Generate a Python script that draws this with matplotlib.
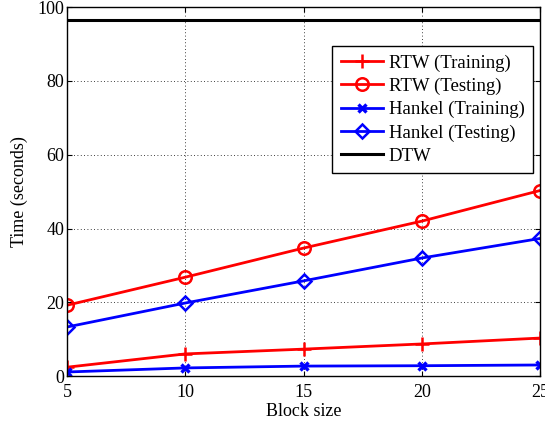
import matplotlib
matplotlib.use("Agg")
import matplotlib.pyplot as plt

block_size = [5, 10, 15, 20, 25]
rtw_train = [2.4, 6.0, 7.3, 8.7, 10.3]
rtw_test = [19.2, 26.8, 34.7, 42.0, 50.3]
hankel_train = [1.1, 2.2, 2.7, 2.8, 3.0]
hankel_test = [13.3, 19.8, 25.8, 32.0, 37.3]
dtw_time = 96.5

plt.rcParams["font.family"] = ["Liberation Serif", "DejaVu Serif"]
plt.rcParams["font.size"] = 13

fig = plt.figure(figsize=(5.45, 4.23), dpi=100)
ax = fig.add_axes([0.123, 0.111, 0.868, 0.872])

lw = 2.0
ax.plot(block_size, rtw_train, color="red", lw=lw, marker="+", ms=10, mew=1.8,
        label="RTW (Training)")
ax.plot(block_size, rtw_test, color="red", lw=lw, marker="o", ms=9, mew=1.8,
        mfc="none", label="RTW (Testing)")
ax.plot(block_size, hankel_train, color="blue", lw=lw, marker="x", ms=6, mew=2.4,
        label="Hankel (Training)")
ax.plot(block_size, hankel_test, color="blue", lw=lw, marker="D", ms=7.5, mew=1.8,
        mfc="none", label="Hankel (Testing)")
ax.plot([block_size[0], block_size[-1]], [dtw_time, dtw_time], color="black",
        lw=2.2, label="DTW")

ax.set_xlim(5, 25)
ax.set_ylim(0, 100)
ax.set_xticks(block_size)
ax.set_yticks([0, 20, 40, 60, 80, 100])
ax.tick_params(direction="in", top=True, right=True, labelsize=13)
ax.tick_params(axis="x", pad=6)
ax.tick_params(axis="y", pad=2)
ax.grid(True, linestyle=(0, (1, 3)), color="black", lw=0.6)
for s in ax.spines.values():
    s.set_linewidth(1.0)
ax.set_xlabel("Block size", fontsize=13, labelpad=1)
ax.set_ylabel("Time (seconds)", fontsize=13, labelpad=7)

leg = ax.legend(loc="upper right", bbox_to_anchor=(0.985, 0.895), fontsize=13.5,
                fancybox=False, framealpha=1, edgecolor="black",
                handlelength=2.25, borderpad=0.45, labelspacing=0.32,
                handletextpad=0.3, borderaxespad=0)
leg.get_frame().set_linewidth(1.0)

fig.savefig("out.png", dpi=100)
